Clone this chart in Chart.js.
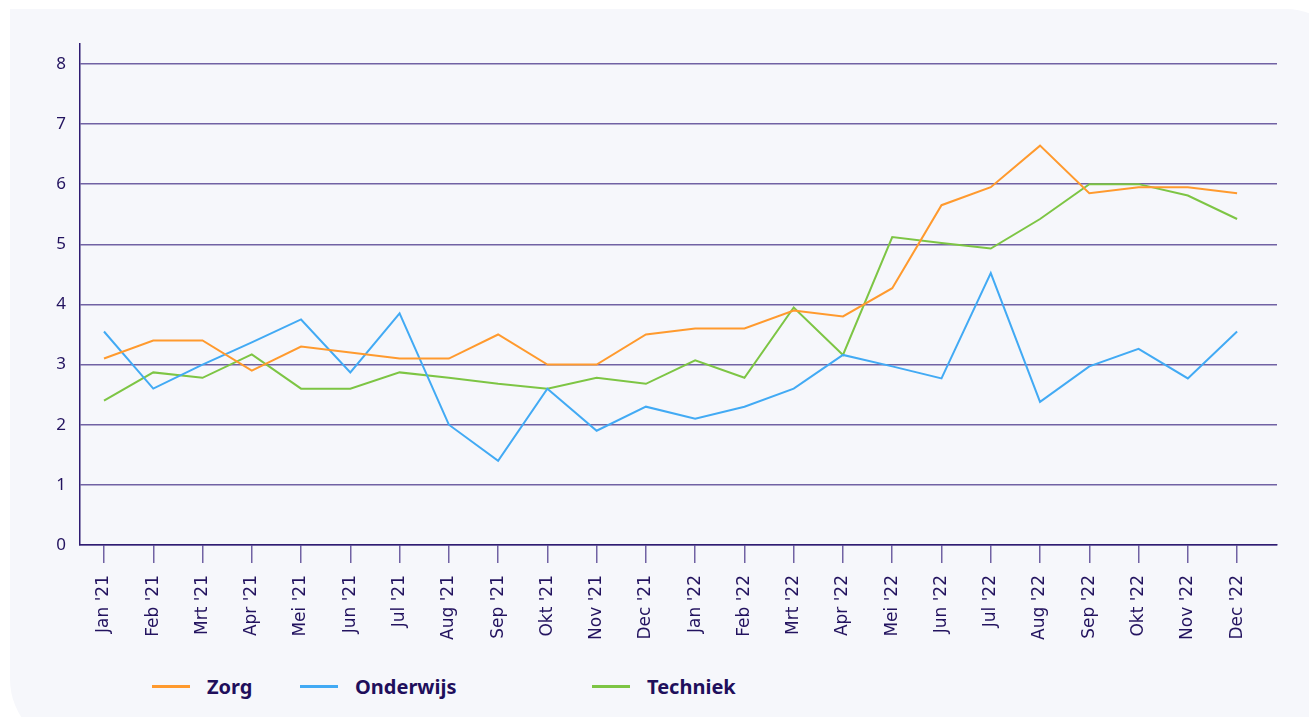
<!DOCTYPE html>
<html lang="nl">
<head>
<meta charset="utf-8">
<script src="https://cdn.jsdelivr.net/npm/chart.js@4.4.0/dist/chart.umd.min.js"></script>
<style>
    html, body { margin: 0; padding: 0; background: #ffffff; width: 1309px; height: 717px; overflow: hidden; }
    .card {
        position: absolute; left: 10px; top: 9px; width: 1340px; height: 740px;
        background: #f6f7fb; border-radius: 0 64px 0 70px;
    }
    #wrap { position: absolute; left: 0; top: 0; width: 1309px; height: 660px; }
    .legend { position: absolute; top: 673px; left: 0; font-family: "Noto Sans", sans-serif; font-weight: 700; font-size: 20px; color: #1f0f5c; }
    .legend .item { position: absolute; white-space: nowrap; display: flex; align-items: center; }
    .legend .line { display: inline-block; width: 38px; height: 3px; margin-right: 17px; }
</style>
</head>
<body>
<div class="card"></div>
<div id="wrap"><canvas id="lijnChart"></canvas></div>
<div class="legend" id="legenda"></div>

<script>
var maanden = ["Jan '21", "Feb '21", "Mrt '21", "Apr '21", "Mei '21", "Jun '21", "Jul '21", "Aug '21", "Sep '21", "Okt '21", "Nov '21", "Dec '21",
    "Jan '22", "Feb '22", "Mrt '22", "Apr '22", "Mei '22", "Jun '22", "Jul '22", "Aug '22", "Sep '22", "Okt '22", "Nov '22", "Dec '22"];

var zorg = [3.1, 3.4, 3.4, 2.9, 3.3, 3.2, 3.1, 3.1, 3.5, 3.0, 3.0, 3.5,
    3.6, 3.6, 3.9, 3.8, 4.27, 5.65, 5.95, 6.64, 5.85, 5.95, 5.95, 5.85];

var onderwijs = [3.55, 2.6, 3.0, 3.37, 3.75, 2.87, 3.85, 2.0, 1.4, 2.6, 1.9, 2.3,
    2.1, 2.3, 2.6, 3.16, 2.97, 2.77, 4.52, 2.38, 2.97, 3.26, 2.77, 3.55];

var techniek = [2.4, 2.87, 2.78, 3.17, 2.6, 2.6, 2.87, 2.78, 2.68, 2.6, 2.78, 2.68,
    3.07, 2.78, 3.95, 3.16, 5.12, 5.02, 4.93, 5.42, 6.0, 6.0, 5.81, 5.42];

var yTicks = [0, 1, 2, 3, 4, 5, 6, 7, 8];

var series = [
    { naam: 'Zorg', data: zorg, kleur: '#ff9a2e', left: 152 },
    { naam: 'Onderwijs', data: onderwijs, kleur: '#42aaf4', left: 300 },
    { naam: 'Techniek', data: techniek, kleur: '#7dc544', left: 592 }
];

var tekstKleur = '#23135f';
var lijnKleur = 'rgba(61, 40, 130, 0.72)';
var font = '"DejaVu Sans", sans-serif';

function punten(arr) {
    return arr.map(function (v, i) { return { x: i, y: v }; });
}

document.addEventListener('DOMContentLoaded', function () {
    var leg = document.getElementById('legenda');
    series.forEach(function (s) {
        var el = document.createElement('div');
        el.className = 'item';
        el.style.left = s.left + 'px';
        el.innerHTML = '<span class="line" style="background:' + s.kleur + '"></span>' + s.naam;
        leg.appendChild(el);
    });

    var ctx = document.getElementById('lijnChart').getContext('2d');
    new Chart(ctx, {
        type: 'line',
        data: {
            datasets: series.map(function (s) {
                return {
                    label: s.naam, data: punten(s.data),
                    borderColor: s.kleur, backgroundColor: s.kleur,
                    borderWidth: 2, pointRadius: 0, tension: 0, fill: false
                };
            })
        },
        options: {
            responsive: true, maintainAspectRatio: false, animation: false,
            layout: { padding: { top: 44, right: 32, left: 0, bottom: 0 } },
            plugins: { legend: { display: false }, tooltip: { enabled: false } },
            scales: {
                x: {
                    type: 'linear', min: -0.487, max: 23.81,
                    afterBuildTicks: function (scale) {
                        scale.ticks = maanden.map(function (m, i) { return { value: i }; });
                    },
                    afterFit: function (scale) { scale.height = 115; },
                    grid: { drawOnChartArea: false, drawTicks: true, tickLength: 18, color: lijnKleur, lineWidth: 1.5 },
                    border: { color: '#2f1c72', width: 1.5 },
                    ticks: {
                        autoSkip: false, minRotation: 90, maxRotation: 90, padding: 12,
                        color: tekstKleur, font: { family: font, size: 17 },
                        callback: function (v) { return maanden[v]; }
                    }
                },
                y: {
                    min: 0, max: 8.33,
                    afterBuildTicks: function (scale) {
                        scale.ticks = yTicks.map(function (v) { return { value: v }; });
                    },
                    afterFit: function (scale) { scale.width = 80; },
                    grid: { color: lijnKleur, lineWidth: 1.5, drawTicks: false },
                    border: { color: '#2f1c72', width: 1.5 },
                    ticks: { padding: 14, color: tekstKleur, font: { family: '"Noto Sans", sans-serif', size: 17 } }
                }
            }
        }
    });
});
</script>
</body>
</html>
